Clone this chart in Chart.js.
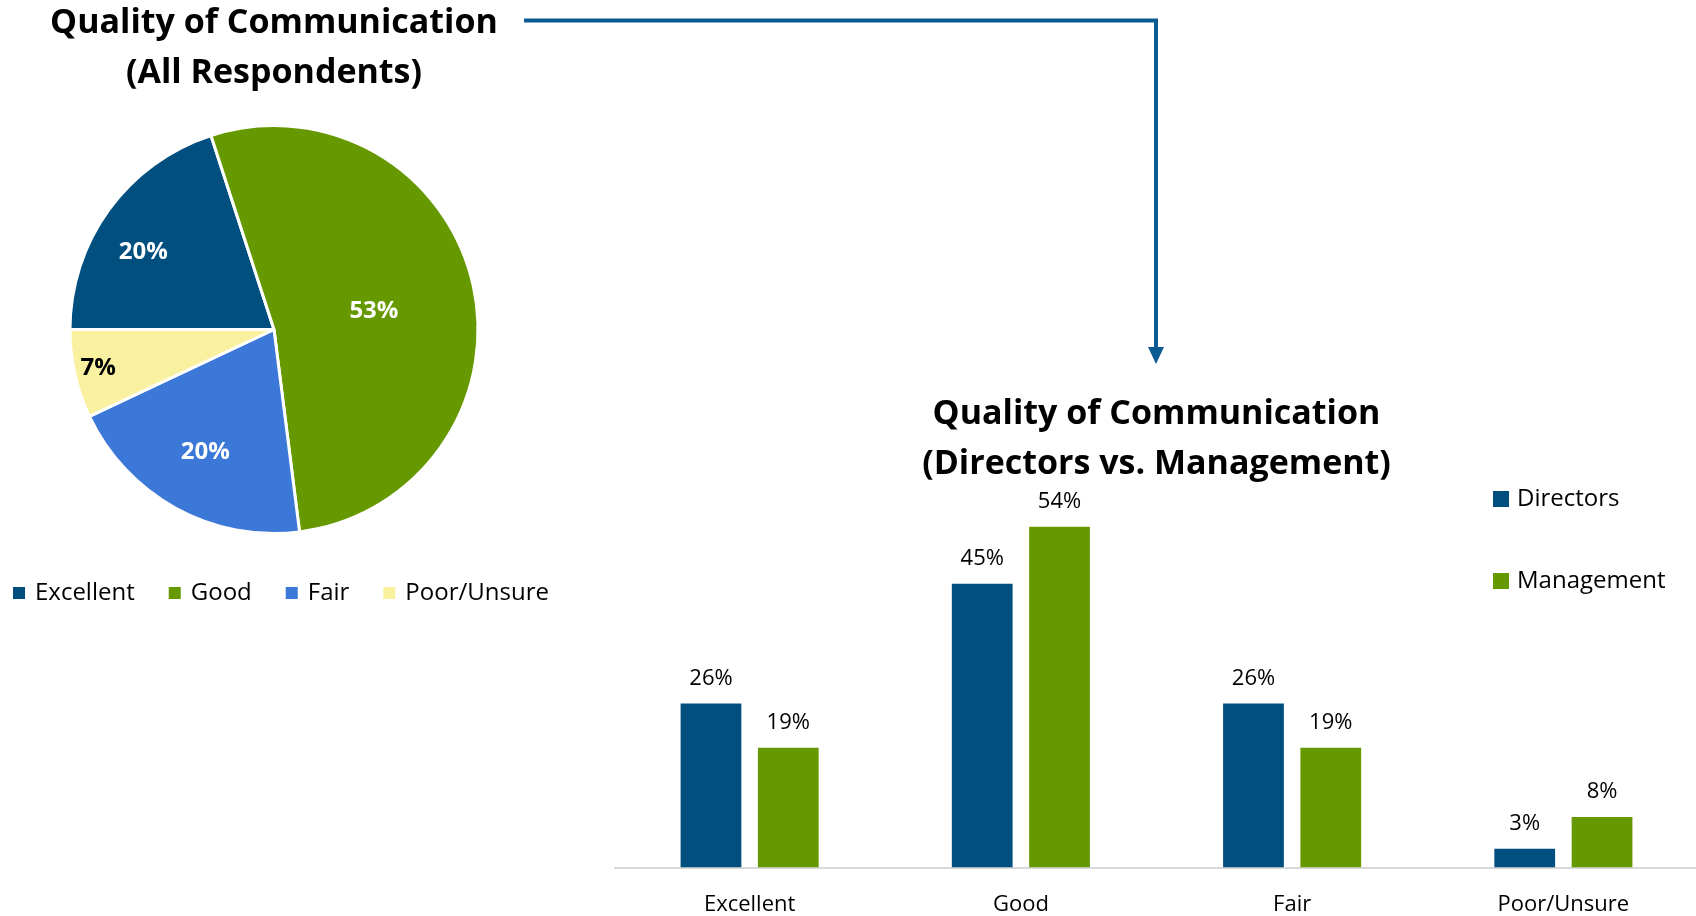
<!DOCTYPE html>
<html>
<head>
<meta charset="utf-8">
<title>Quality of Communication</title>
<script src="https://cdn.jsdelivr.net/npm/chart.js@4.4.1/dist/chart.umd.min.js"></script>
<style>
  html, body { margin: 0; padding: 0; background: #fff; }
  #page { position: relative; width: 1696px; height: 916px; overflow: hidden; }
  #page canvas, #page svg { position: absolute; }
  #pie-chart { left: 0; top: -2px; }
  #bar-chart { left: 614px; top: 380px; }
  #connector { left: 0; top: 0; }
</style>
</head>
<body>
<div id="page">
  <canvas id="pie-chart" width="548" height="640"></canvas>
  <canvas id="bar-chart" width="1085" height="562"></canvas>
  <svg id="connector" width="1696" height="400">
    <path d="M524 20.5 H1156 V350" fill="none" stroke="#0b5a92" stroke-width="4"/>
    <polygon points="1148,347 1164,347 1156,364" fill="#0b5a92"/>
  </svg>
</div>

<script>
// survey results, in percent
const CATEGORIES = ['Excellent', 'Good', 'Fair', 'Poor/Unsure'];
const ALL_RESPONDENTS = [20, 53, 20, 7];
const DIRECTORS = [26, 45, 26, 3];
const MANAGEMENT = [19, 54, 19, 8];

const NAVY = '#004f7f';
const GREEN = '#669900';
const PIE_COLORS = [NAVY, GREEN, '#3c78d8', '#faf1a0'];

Chart.defaults.font.family = "'Open Sans', 'Noto Sans', sans-serif";
Chart.defaults.color = '#000';

const titleFont = { size: 34, weight: 'bold', lineHeight: '50px' };

// percent labels inside the slices
const sliceLabels = {
    id: 'sliceLabels',
    afterDatasetsDraw(chart, args, opts) {
        const ctx = chart.ctx;
        const meta = chart.getDatasetMeta(0);
        const values = chart.data.datasets[0].data;
        ctx.save();
        ctx.font = 'bold 24px ' + Chart.defaults.font.family;
        ctx.textAlign = 'center';
        ctx.textBaseline = 'middle';
        meta.data.forEach((arc, i) => {
            const p = arc.getProps(['x', 'y', 'startAngle', 'endAngle', 'outerRadius'], true);
            const mid = (p.startAngle + p.endAngle) / 2 + opts.nudge[i] * Math.PI / 180;
            const r = p.outerRadius * opts.radius[i];
            ctx.fillStyle = opts.colors[i];
            ctx.fillText(values[i] + '%', p.x + Math.cos(mid) * r, p.y + Math.sin(mid) * r + 2);
        });
        ctx.restore();
    }
};

// value labels above the bars
const barLabels = {
    id: 'barLabels',
    afterDatasetsDraw(chart, args, opts) {
        const ctx = chart.ctx;
        ctx.save();
        ctx.font = '22px ' + Chart.defaults.font.family;
        ctx.fillStyle = '#000';
        ctx.textAlign = 'center';
        ctx.textBaseline = 'middle';
        chart.data.datasets.forEach((ds, d) => {
            chart.getDatasetMeta(d).data.forEach((bar, i) => {
                ctx.fillText(ds.data[i] + '%', bar.x, bar.y - opts.offset);
            });
        });
        ctx.restore();
    }
};

// simple legend drawn at a fixed place: row (pie) or column (bars)
const boxLegend = {
    id: 'boxLegend',
    afterDraw(chart, args, opts) {
        const ctx = chart.ctx;
        let items;
        if (chart.config.type === 'pie') {
            items = chart.data.labels.map((l, i) => ({ text: l, color: chart.data.datasets[0].backgroundColor[i] }));
        } else {
            items = chart.data.datasets.map(ds => ({ text: ds.label, color: ds.backgroundColor }));
        }
        ctx.save();
        ctx.font = opts.fontSize + 'px ' + Chart.defaults.font.family;
        ctx.textBaseline = 'middle';
        ctx.textAlign = 'left';
        let x = opts.x;
        let y = opts.y;
        items.forEach(item => {
            ctx.fillStyle = item.color;
            ctx.fillRect(x, y - opts.box / 2, opts.box, opts.box);
            ctx.fillStyle = '#000';
            ctx.fillText(item.text, x + opts.textGap, y);
            if (opts.vertical) {
                y += opts.step;
            } else {
                x += opts.textGap + ctx.measureText(item.text).width + opts.step;
            }
        });
        ctx.restore();
    }
};

new Chart(document.getElementById('pie-chart'), {
    type: 'pie',
    data: {
        labels: CATEGORIES,
        datasets: [{
            data: ALL_RESPONDENTS,
            backgroundColor: PIE_COLORS,
            borderColor: '#fff',
            borderWidth: 3
        }]
    },
    options: {
        responsive: false,
        animation: false,
        rotation: 270,
        radius: 204,
        layout: { padding: { top: 0, bottom: 77, left: 0, right: 0 } },
        plugins: {
            title: {
                display: true,
                text: ['Quality of Communication', '(All Respondents)'],
                font: titleFont,
                color: '#000',
                padding: { top: 0, bottom: 0 }
            },
            legend: { display: false },
            tooltip: { enabled: false },
            sliceLabels: {
                radius: [0.75, 0.5, 0.68, 0.88],
                nudge: [-4.6, 1, 0.9, 0.9],
                colors: ['#fff', '#fff', '#fff', '#000']
            },
            boxLegend: { x: 13, y: 595, box: 12, textGap: 22, step: 34, fontSize: 24, vertical: false }
        }
    },
    plugins: [sliceLabels, boxLegend]
});

new Chart(document.getElementById('bar-chart'), {
    type: 'bar',
    data: {
        labels: CATEGORIES,
        datasets: [{
            label: 'Directors',
            data: DIRECTORS,
            backgroundColor: NAVY,
            categoryPercentage: 0.57,
            barPercentage: 0.786
        },
        {
            label: 'Management',
            data: MANAGEMENT,
            backgroundColor: GREEN,
            categoryPercentage: 0.57,
            barPercentage: 0.786
        }]
    },
    options: {
        responsive: false,
        animation: false,
        layout: { padding: 0 },
        scales: {
            x: {
                grid: { display: false, drawTicks: false },
                border: { display: true, color: '#d9d9d9', width: 2 },
                ticks: { padding: 24, color: '#000', font: { size: 22 } }
            },
            y: { display: false, min: 0, max: 60 }
        },
        plugins: {
            title: {
                display: true,
                text: ['Quality of Communication', '(Directors vs. Management)'],
                font: titleFont,
                color: '#000',
                padding: { top: 9, bottom: 0 }
            },
            legend: { display: false },
            tooltip: { enabled: false },
            barLabels: { offset: 25 },
            boxLegend: { x: 879, y: 119, box: 16, textGap: 24, step: 82, fontSize: 24, vertical: true }
        }
    },
    plugins: [barLabels, boxLegend]
});
</script>
</body>
</html>
